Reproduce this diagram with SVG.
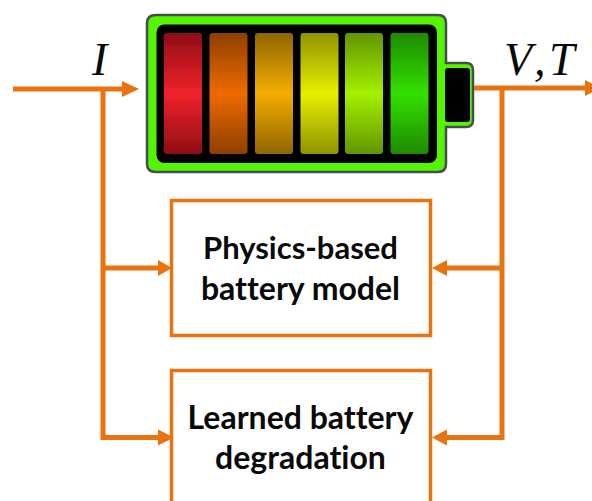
<svg xmlns="http://www.w3.org/2000/svg" width="592" height="501" viewBox="0 0 592 501">
<style>
.wire{fill:none;stroke:#e8730f;stroke-width:5}
.head{fill:#e8730f}
.box{fill:#fff;stroke:#e8730f;stroke-width:3.5}
.lbl{font-family:Lato,"Open Sans",sans-serif;font-weight:700;font-size:32px;fill:#0a0a0a;text-anchor:middle;font-variant-ligatures:none}
.math{font-family:"Liberation Serif",serif;font-style:italic;font-size:46px;fill:#0a0a0a}
.bar{stroke:none}
</style>
<defs>
<linearGradient id="g1" x1="0" y1="0" x2="0" y2="1"><stop offset="0" stop-color="#8e0d14"/><stop offset=".5" stop-color="#f0222a"/><stop offset="1" stop-color="#8e0d14"/></linearGradient>
<linearGradient id="g2" x1="0" y1="0" x2="0" y2="1"><stop offset="0" stop-color="#8f3f05"/><stop offset=".5" stop-color="#ee6a00"/><stop offset="1" stop-color="#8f3f05"/></linearGradient>
<linearGradient id="g3" x1="0" y1="0" x2="0" y2="1"><stop offset="0" stop-color="#8f6500"/><stop offset=".5" stop-color="#f4ad00"/><stop offset="1" stop-color="#8f6500"/></linearGradient>
<linearGradient id="g4" x1="0" y1="0" x2="0" y2="1"><stop offset="0" stop-color="#8f9400"/><stop offset=".5" stop-color="#e8ef00"/><stop offset="1" stop-color="#8f9400"/></linearGradient>
<linearGradient id="g5" x1="0" y1="0" x2="0" y2="1"><stop offset="0" stop-color="#629500"/><stop offset=".5" stop-color="#a4f000"/><stop offset="1" stop-color="#629500"/></linearGradient>
<linearGradient id="g6" x1="0" y1="0" x2="0" y2="1"><stop offset="0" stop-color="#1f8a00"/><stop offset=".5" stop-color="#33e000"/><stop offset="1" stop-color="#1f8a00"/></linearGradient>
<filter id="soft" x="-5%" y="-5%" width="110%" height="110%"><feGaussianBlur stdDeviation="0.6"/></filter>
</defs>
<rect width="592" height="501" fill="#fff"/>
<g id="battery" filter="url(#soft)">
<path d="M156 15H438Q446 15 446 23V63H466Q473 63 473 70V120Q473 127 466 127H446V164Q446 172 438 172H156Q147 172 147 164V23Q147 15 156 15Z" fill="#55f500" stroke="#474c55" stroke-width="2.500"/>
<rect x="156.500" y="24.500" width="280.500" height="138.500" rx="8" fill="#000"/>
<rect x="445" y="68" width="25" height="54" rx="3" fill="#000"/>
<rect class="bar" x="164" y="33" width="38" height="121" rx="3" fill="url(#g1)"/>
<rect class="bar" x="209.500" y="33" width="38" height="121" rx="3" fill="url(#g2)"/>
<rect class="bar" x="255" y="33" width="38" height="121" rx="3" fill="url(#g3)"/>
<rect class="bar" x="300.500" y="33" width="38" height="121" rx="3" fill="url(#g4)"/>
<rect class="bar" x="345" y="33" width="38" height="121" rx="3" fill="url(#g5)"/>
<rect class="bar" x="390.500" y="33" width="38" height="121" rx="3" fill="url(#g6)"/>
</g>
<g id="node-physics">
<rect class="box" x="171.500" y="200.500" width="259" height="135"/>
<text class="lbl" x="300.500" y="259" style="font-size:31px">Physics-based</text>
<text class="lbl" x="300.500" y="300">battery model</text>
</g>
<g id="node-degradation">
<rect class="box" x="171.500" y="370.500" width="259" height="140"/>
<text class="lbl" x="300.500" y="429">Learned battery</text>
<text class="lbl" x="300.500" y="469">degradation</text>
</g>
<g id="connectors">
<path class="wire" d="M13 89H124"/>
<path class="head" d="M122 81L139 89L122 97Z"/>
<path class="wire" d="M103 89V437.500H160"/>
<path class="wire" d="M103 268H160"/>
<path class="head" d="M158 260L172 268L158 276Z"/>
<path class="head" d="M158 429.500L174 437.500L158 445.500Z"/>
<path class="wire" d="M474 88H586"/>
<path class="head" d="M585 80L600 88L585 96Z"/>
<path class="wire" d="M502 88V437.500H445"/>
<path class="wire" d="M502 268H445"/>
<path class="head" d="M447 260L432 268L447 276Z"/>
<path class="head" d="M447 429.500L432 437.500L447 445.500Z"/>
</g>
<text class="math" x="92" y="75">I</text>
<text class="math" x="504" y="75">V</text>
<text class="math" x="534" y="75">,</text>
<text class="math" x="549" y="75">T</text>
</svg>
